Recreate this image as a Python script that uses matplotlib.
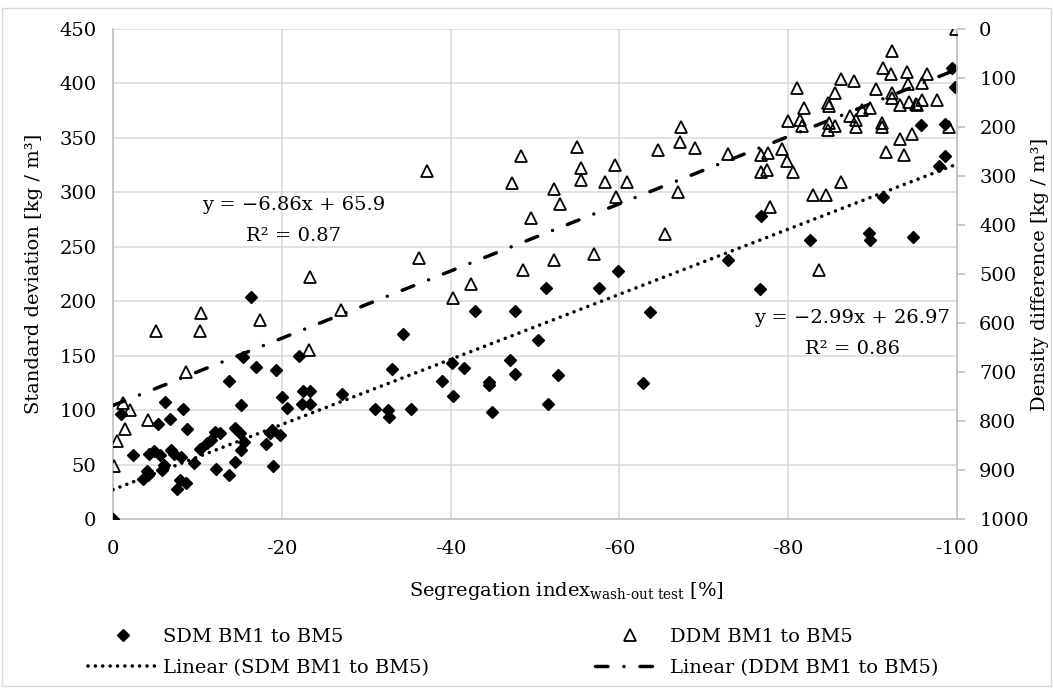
import numpy as np
import matplotlib
matplotlib.use("Agg")
import matplotlib.pyplot as plt
from matplotlib.lines import Line2D
from matplotlib.patches import Rectangle

plt.rcParams['font.family'] = ['DejaVu Serif']
plt.rcParams['mathtext.fontset'] = 'custom'
plt.rcParams['mathtext.rm'] = 'DejaVu Serif'
plt.rcParams['mathtext.default'] = 'regular'
plt.rcParams['axes.unicode_minus'] = False
plt.rcParams['lines.scale_dashes'] = False

# --- SDM: segregation index [%] vs. standard deviation [kg/m3] ---
sdm_x = [0.0, -1.0, -2.4, -3.5, -4.0, -4.2, -4.3, -4.8, -5.3, -5.6, -5.8, -6.0,
         -6.2, -6.7, -6.9, -7.2, -7.6, -7.9, -8.1, -8.3, -8.7, -8.8, -9.6,
         -10.3, -11.1, -11.6, -12.1, -12.2, -12.7, -13.7, -13.7, -14.4, -14.5,
         -15.0, -15.2, -15.2, -15.5, -15.4, -16.3, -16.9, -18.1, -18.6, -18.8,
         -18.9, -19.3, -19.8, -20.0, -20.6, -22.0, -22.5, -23.3, -22.4, -23.3,
         -27.1, -31.0, -32.6, -32.7, -33.0, -34.4, -35.3, -39.0, -40.2, -40.3,
         -41.6, -42.9, -44.5, -44.5, -44.9, -47.0, -47.6, -47.6, -50.4, -51.3,
         -51.5, -52.7, -57.6, -59.8, -62.8, -63.6, -72.9, -76.6, -76.8, -82.6,
         -89.6, -89.7, -91.2, -94.8, -95.7, -97.9, -98.6, -98.6, -99.4, -99.8]
sdm_sd = [0, 96, 59, 37, 44, 40, 60, 62, 87, 59, 45, 50,
          107, 92, 63, 60, 28, 36, 57, 101, 33, 83, 51,
          64, 70, 73, 80, 46, 79, 40, 127, 52, 84,
          79, 105, 63, 71, 149, 204, 140, 69, 79, 82,
          49, 137, 77, 112, 102, 150, 118, 118, 106, 106,
          115, 101, 100, 94, 138, 170, 101, 127, 143, 113,
          139, 191, 126, 123, 98, 146, 133, 191, 164, 212,
          106, 132, 212, 228, 125, 190, 238, 211, 278, 256,
          263, 256, 296, 259, 362, 324, 333, 363, 414, 397]

# --- DDM: segregation index [%] vs. density difference [kg/m3] ---
ddm_x = [-0.1, -0.5, -1.4, -1.2, -2.0, -4.2, -5.1, -10.3, -10.4, -17.4,
         -8.7, -23.2, -23.4, -27.0, -36.3, -40.3, -42.4, -37.2, -48.4, -47.3,
         -49.5, -48.6, -52.3, -53.0, -52.2, -55.0, -55.5, -55.4, -57.0, -58.3,
         -59.5, -59.6, -60.9, -64.6, -67.3, -67.2, -69.0, -66.9, -65.4, -72.9,
         -76.8, -77.6, -76.8, -77.5, -79.3, -79.9, -80.6, -77.8, -82.9, -84.5,
         -86.3, -83.7, -81.0, -81.9, -80.0, -81.4, -81.6, -84.7, -84.8, -85.5,
         -86.3, -87.8, -84.8, -84.7, -85.6, -87.3, -88.0, -88.0, -88.7, -89.7,
         -90.4, -91.2, -92.3, -92.2, -92.3, -92.3, -93.2, -91.1, -91.1, -91.6,
         -93.3, -93.7, -94.7, -94.1, -94.2, -95.8, -96.5, -94.3, -95.2, -95.3,
         -95.8, -97.6, -99.0, -99.9]
ddm_dd = [892, 840, 817, 763, 778, 797, 617, 617, 579, 594,
          701, 655, 506, 574, 468, 548, 521, 290, 259, 314,
          386, 492, 327, 358, 471, 241, 284, 309, 459, 312,
          278, 342, 312, 247, 201, 231, 243, 333, 419, 255,
          257, 253, 291, 288, 245, 269, 292, 363, 339, 339,
          312, 491, 121, 162, 188, 185, 198, 150, 157, 130,
          102, 106, 192, 206, 198, 177, 186, 200, 165, 161,
          123, 79, 44, 92, 130, 141, 156, 191, 200, 250,
          225, 257, 214, 87, 112, 110, 91, 149, 153, 156,
          144, 145, 200, 0]

# Trend line coefficients
sdm_slope, sdm_intercept, sdm_r2 = -2.99, 26.97, 0.86
ddm_slope, ddm_intercept, ddm_r2 = -6.86, 65.9, 0.87

x_ticks = [0, -20, -40, -60, -80, -100]
sd_ticks = list(range(0, 451, 50))
dd_ticks = list(range(0, 1001, 100))

grid_col = '#d9d9d9'
axis_col = '#bfbfbf'
fs = 14

fig = plt.figure(figsize=(10.53, 6.89), dpi=100)
fig.add_artist(Rectangle((0.002, 0.004), 0.996, 0.984, transform=fig.transFigure,
                         fill=False, edgecolor=grid_col, lw=1.0))
ax = fig.add_axes([113 / 1053, 1 - 519 / 689, (957 - 113) / 1053, (519 - 29) / 689])
ax.set_xlim(0, -100)
ax.set_ylim(0, 450)
ax.set_xticks(x_ticks)
ax.set_xticklabels([str(t) for t in x_ticks])
ax.set_yticks(sd_ticks)
ax.grid(True, color=grid_col, lw=1.1)
ax.set_axisbelow(True)
for s in ['top', 'right']:
    ax.spines[s].set_visible(False)
for s in ['left', 'bottom']:
    ax.spines[s].set_color(axis_col)
    ax.spines[s].set_linewidth(1.2)
ax.tick_params(axis='both', length=0, labelsize=fs)
ax.tick_params(axis='x', pad=15)
ax.tick_params(axis='y', pad=12)

ax2 = ax.twinx()
ax2.set_ylim(1000, 0)
ax2.set_yticks(dd_ticks)
for s in ['top', 'left', 'bottom']:
    ax2.spines[s].set_visible(False)
ax2.spines['right'].set_color(axis_col)
ax2.spines['right'].set_linewidth(1.2)
ax2.tick_params(axis='y', length=6, width=1.2, color=axis_col, labelsize=fs, pad=10)

# SDM points and trend line
ax.plot(sdm_x, sdm_sd, ls='none', marker='D', ms=6.5, color='black', zorder=3)
xl = np.array([0, -100])
ax.plot(xl, sdm_slope * xl + sdm_intercept, color='black', lw=2.6,
        ls=(0, (0.01, 5.3)), dash_capstyle='round', zorder=4)

# DDM points and trend line (secondary axis): slope magnitude from the
# regression label, offset fitted to the points
ax2.plot(ddm_x, ddm_dd, ls='none', marker='^', ms=9, mfc='none', mec='black',
         mew=1.3, zorder=3)
k = abs(ddm_slope)
b = np.mean(ddm_dd) - k * np.mean(ddm_x)
ax2.plot(xl, k * xl + b, color='black', lw=2.5,
         ls=(0, (9, 11.5, 0.01, 11.5)), dash_capstyle='round', zorder=4)

# Equation labels
ax.text(-21.4, 288, f"y = \u2212{abs(ddm_slope):.2f}x + {ddm_intercept:.1f}",
        ha='center', va='center', fontsize=fs)
ax.text(-21.4, 260, f"R\u00b2 = {ddm_r2:.2f}", ha='center', va='center', fontsize=fs)
ax.text(-87.6, 185, f"y = \u2212{abs(sdm_slope):.2f}x + {sdm_intercept:.2f}",
        ha='center', va='center', fontsize=fs)
ax.text(-87.6, 156, f"R\u00b2 = {sdm_r2:.2f}", ha='center', va='center', fontsize=fs)

ax.set_ylabel("Standard deviation [kg / m\u00b3]", fontsize=fs)
ax2.set_ylabel("Density difference [kg / m\u00b3]", fontsize=fs)
ax.yaxis.set_label_coords(-0.083, 0.5)
ax2.yaxis.set_label_coords(1.088, 0.5)
ax.set_xlabel("Segregation index$_{wash\u2010out\\ test}$ [%]", fontsize=fs)
ax.xaxis.set_label_coords(0.537, -0.124)

handles = [
    Line2D([], [], ls='none', marker='D', ms=6, color='black'),
    Line2D([], [], color='black', lw=2.6, ls=(0, (0.01, 5.3)), dash_capstyle='round'),
    Line2D([], [], ls='none', marker='^', ms=8, mfc='none', mec='black', mew=1.3),
    Line2D([], [], color='black', lw=2.5, ls=(0, (9, 11.5, 0.01, 11.5)), dash_capstyle='round'),
]
labels = ["SDM BM1 to BM5", "Linear (SDM BM1 to BM5)",
          "DDM BM1 to BM5", "Linear (DDM BM1 to BM5)"]
fig.legend(handles, labels, ncol=2, loc='upper left',
           bbox_to_anchor=(88 / 1053, 1 - 628 / 689), frameon=False, fontsize=fs,
           handlelength=3.6, handletextpad=0.25, columnspacing=8.55,
           labelspacing=0.65, borderpad=0, borderaxespad=0)

fig.savefig("out.png", dpi=100)
